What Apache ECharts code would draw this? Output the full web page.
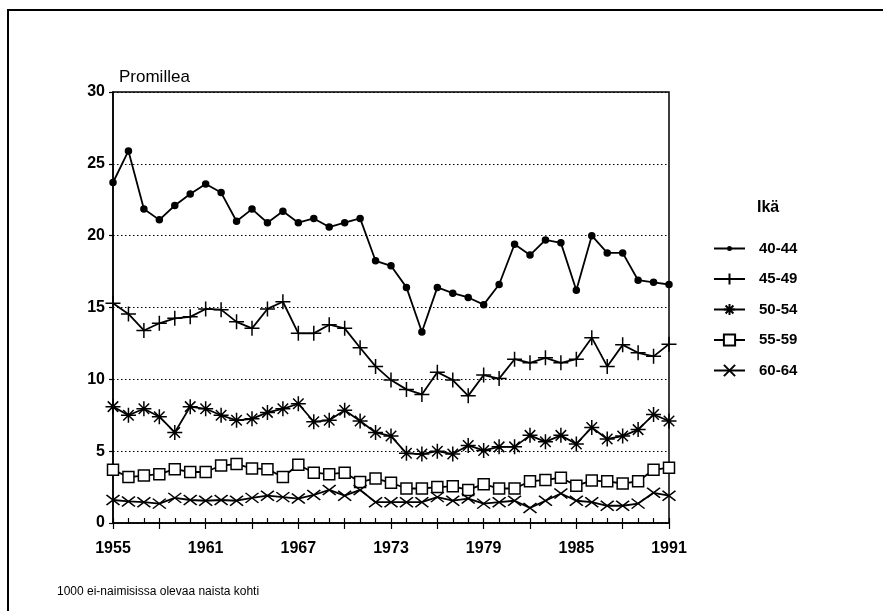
<!DOCTYPE html>
<html lang="fi">
<head>
<meta charset="UTF-8">
<title>Promillea</title>
<script src="https://cdn.jsdelivr.net/npm/echarts@6/dist/echarts.min.js"></script>
<style>
  html, body { margin: 0; padding: 0; background: #fff; }
  #chart { width: 883px; height: 611px; }
</style>
</head>
<body>
<div id="chart"></div>
<script>
// vuodet 1955-1991
var years = ['1955','1956','1957','1958','1959','1960','1961','1962','1963','1964',
  '1965','1966','1967','1968','1969','1970','1971','1972','1973','1974',
  '1975','1976','1977','1978','1979','1980','1981','1982','1983','1984',
  '1985','1986','1987','1988','1989','1990','1991'];

var names = ['40-44', '45-49', '50-54', '55-59', '60-64'];

var age40 = [23.7, 25.9, 21.85, 21.1, 22.1, 22.9, 23.6, 23.0, 21.0, 21.85,
  20.9, 21.7, 20.9, 21.2, 20.6, 20.9, 21.2, 18.25, 17.9, 16.4,
  13.3, 16.4, 16.0, 15.7, 15.2, 16.6, 19.4, 18.65, 19.7, 19.5,
  16.2, 20.0, 18.8, 18.8, 16.9, 16.75, 16.6];
var age45 = [15.3, 14.55, 13.4, 13.9, 14.25, 14.35, 14.9, 14.85, 14.0, 13.55,
  14.9, 15.4, 13.2, 13.2, 13.8, 13.55, 12.2, 10.9, 9.95, 9.3,
  8.95, 10.5, 9.95, 8.85, 10.3, 10.05, 11.4, 11.15, 11.5, 11.15,
  11.4, 12.9, 10.9, 12.4, 11.85, 11.6, 12.45];
var age50 = [8.1, 7.5, 7.95, 7.4, 6.3, 8.1, 7.95, 7.5, 7.15, 7.25,
  7.7, 7.95, 8.3, 7.05, 7.15, 7.85, 7.1, 6.3, 6.05, 4.85,
  4.8, 5.0, 4.8, 5.4, 5.05, 5.3, 5.3, 6.1, 5.65, 6.1,
  5.5, 6.65, 5.85, 6.05, 6.5, 7.55, 7.1];
var age55 = [3.7, 3.2, 3.3, 3.4, 3.75, 3.55, 3.55, 4.0, 4.1, 3.8,
  3.75, 3.2, 4.05, 3.5, 3.4, 3.5, 2.85, 3.1, 2.8, 2.4,
  2.4, 2.5, 2.55, 2.3, 2.7, 2.4, 2.4, 2.9, 3.0, 3.15,
  2.6, 2.95, 2.9, 2.75, 2.9, 3.7, 3.85];
var age60 = [1.6, 1.5, 1.45, 1.35, 1.75, 1.6, 1.55, 1.6, 1.55, 1.75,
  1.9, 1.8, 1.7, 1.95, 2.3, 1.9, 2.3, 1.45, 1.45, 1.45,
  1.45, 1.8, 1.55, 1.7, 1.35, 1.45, 1.55, 1.05, 1.55, 2.05,
  1.55, 1.45, 1.2, 1.2, 1.35, 2.1, 1.9];

var yTicks = [0, 5, 10, 15, 20, 25, 30];

var chart = echarts.init(document.getElementById('chart'));

var font = '"Liberation Sans", Arial, Helvetica, sans-serif';

function line(name, data, symbol, size, fill) {
    return {
        name: name,
        type: 'line',
        data: data,
        symbol: symbol,
        symbolSize: size,
        showAllSymbol: true,
        lineStyle: { color: '#000', width: 1.8 },
        itemStyle: { color: fill, borderColor: '#000', borderWidth: 1.5 },
        emphasis: { disabled: true }
    };
}

// legendan viiva + pieni piste samassa ikonissa (31x14)
var dotIcon = 'path://M0,0M31,14M0,6.1L31,6.1L31,7.9L0,7.9Z' +
              'M15.5,4.5A2.5,2.5,0,1,1,15.5,9.5A2.5,2.5,0,1,1,15.5,4.5Z';

var option = {
    animation: false,
    backgroundColor: '#fff',
    textStyle: { fontFamily: font, color: '#000' },
    title: [
        { text: 'Promillea', left: 114, top: 64,
          textStyle: { fontSize: 17, fontWeight: 'normal', color: '#000', fontFamily: font } },
        { text: 'Ikä', left: 752, top: 195,
          textStyle: { fontSize: 16, fontWeight: 'bold', color: '#000', fontFamily: font } },
        { text: '1000 ei-naimisissa olevaa naista kohti', left: 52, top: 581,
          textStyle: { fontSize: 12, fontWeight: 'normal', color: '#000', fontFamily: font } }
    ],
    legend: {
        orient: 'vertical',
        left: 708,
        top: 236,
        itemWidth: 31,
        itemHeight: 14,
        itemGap: 15.5,
        data: [
            { name: names[0], icon: dotIcon, itemStyle: { color: '#000', borderWidth: 0 } },
            names[1], names[2], names[3], names[4]
        ],
        selectedMode: false,
        textStyle: { fontSize: 15, fontWeight: 'bold', color: '#000', fontFamily: font,
                     padding: [0, 0, 0, 9] }
    },
    grid: {
        left: 113, right: 214, top: 92, bottom: 88,
        show: true, borderColor: '#000', borderWidth: 1.5
    },
    xAxis: [{
        type: 'category',
        data: years,
        boundaryGap: false,
        axisLine: { lineStyle: { color: '#000', width: 1.5 } },
        axisTick: { show: true, interval: 0, inside: true, length: 5, lineStyle: { color: '#000', width: 1.2 } },
        axisLabel: { interval: 5, margin: 18, fontSize: 16, fontWeight: 'bold', color: '#000', fontFamily: font },
        splitLine: { show: false }
    }, {
        type: 'category',
        data: years,
        boundaryGap: false,
        position: 'bottom',
        axisLine: { show: false },
        axisTick: { show: true, interval: 2, length: 6, lineStyle: { color: '#000', width: 1.2 } },
        axisLabel: { show: false },
        splitLine: { show: false }
    }],
    yAxis: {
        type: 'value',
        min: yTicks[0],
        max: yTicks[yTicks.length - 1],
        interval: 5,
        axisLine: { show: true, lineStyle: { color: '#000', width: 1.5 } },
        axisTick: { show: true, length: 4, lineStyle: { color: '#000', width: 1.2 } },
        axisLabel: { margin: 8, fontSize: 16, fontWeight: 'bold', color: '#000', fontFamily: font },
        splitLine: { show: true, lineStyle: { color: '#000', width: 1, type: [1.5, 2.5] } }
    },
    series: [
        line(names[0], age40, 'circle', 6, '#000'),
        line(names[1], age45, 'path://M0,5L10,5M5,0L5,10', 15, '#000'),
        line(names[2], age50, 'path://M5,0L5,10M0,5L10,5M1.5,1.5L8.5,8.5M8.5,1.5L1.5,8.5', 15, '#000'),
        line(names[3], age55, 'rect', 11, '#fff'),
        line(names[4], age60, 'path://M0,0L10,10M10,0L0,10', [13, 10], '#000')
    ],
    graphic: [{
        type: 'polyline',
        shape: { points: [[8, 611], [8, 10], [883, 10]] },
        style: { stroke: '#000', lineWidth: 2, fill: null },
        silent: true
    }]
};

chart.setOption(option);
window.onresize = function () { chart.resize(); };
</script>
</body>
</html>
